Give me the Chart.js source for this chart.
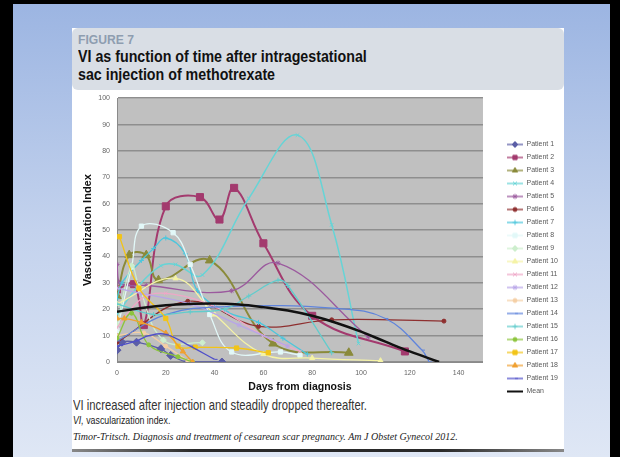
<!DOCTYPE html>
<html><head><meta charset="utf-8">
<script src="https://cdn.jsdelivr.net/npm/chart.js@4.4.1/dist/chart.umd.min.js"></script>
<style>
html,body{margin:0;padding:0}
body{width:620px;height:457px;position:relative;overflow:hidden;background:#000;font-family:'Liberation Sans',Arial,sans-serif}
#slide{position:absolute;left:13px;top:4px;width:597px;height:453px;background:linear-gradient(180deg,#9cb5e2 0%,#c3d2ed 50%,#dfe7f5 100%)}
#panel{position:absolute;left:72px;top:28px;width:492px;height:422px;background:#fff}
#head{position:absolute;left:72px;top:28px;width:492px;height:62px;background:#d9dee5;border-radius:6px}
.t{position:absolute;white-space:nowrap;transform-origin:0 0}
#fig{left:78px;top:32px;font:bold 13.5px 'Liberation Sans',sans-serif;color:#8e9db0;transform:scaleX(0.9)}
#t1{left:78px;top:48px;font:bold 16px 'Liberation Sans',sans-serif;color:#111;transform:scaleX(0.89)}
#t2{left:78px;top:66px;font:bold 16px 'Liberation Sans',sans-serif;color:#111;transform:scaleX(0.89)}
#c1{left:73px;top:396px;font:15px 'Liberation Sans',sans-serif;color:#333;transform:scaleX(0.75)}
#c2{left:73px;top:415px;font:10px 'Liberation Sans',sans-serif;color:#222;transform:scaleX(0.88)}
#c3{left:73px;top:431px;font:italic 10px 'Liberation Serif',serif;color:#222}
#shadow{position:absolute;left:72px;top:449px;width:492px;height:3px;background:linear-gradient(90deg,#888,#2a2a2a 25%,#2a2a2a 75%,#888)}
#cv{position:absolute;left:72px;top:87px}
</style></head>
<body>
<div id="slide"></div>
<div id="panel"></div>
<div id="head"></div>
<div class="t" id="fig">FIGURE 7</div>
<div class="t" id="t1">VI as function of time after intragestational</div>
<div class="t" id="t2">sac injection of methotrexate</div>
<div class="t" id="c1">VI increased after injection and steadily dropped thereafter.</div>
<div class="t" id="c2"><i>VI,</i> vascularization index.</div>
<div class="t" id="c3">Timor-Tritsch. Diagnosis and treatment of cesarean scar pregnancy. Am J Obstet Gynecol 2012.</div>
<div id="shadow"></div>
<canvas id="cv" width="496" height="362" style="width:496px;height:362px"></canvas>
<script>
// [day, VI] readings
const patient1  = [[0,4.5],[2,7.5],[8,7.5],[18,5],[22,2.5],[29,0],[43,0]];
const patient2  = [[0,27.5],[7,29.5],[11,14],[20,59],[34,62.5],[42,54],[48,66],[60,45],[80,17.5],[118,4]];
const patient3  = [[0,25],[5,40.5],[12,40.5],[17,31],[38,38.5],[64,7],[95,3.5]];
const patient4  = [[0,18],[8,28],[18,36.5],[24,37],[35,33],[54,62],[74,86],[88,52],[99,7]];
const patient5  = [[0,37],[1,30],[12,29],[47,27],[66,37.5],[103,9.5]];
const patient6  = [[0,7.5],[29,23],[58,13.5],[88,16],[134,15.5]];
const patient7  = [[0,24],[2,30],[10,38.5],[15,43],[20,47],[28,41],[33,27],[45,19],[58,15],[68,9],[78,3]];
const patient8  = [[0,12],[6,36],[10,51.5],[23,49],[30,37],[38,18],[47,3.8],[67,3.8],[75,2.6]];
const patient9  = [[0,14],[6,36.5],[9,28.5],[19,8.3],[35,7.3]];
const patient10 = [[0,22],[24,31.7],[40,18],[60,3],[80,1.5],[108,0.5]];
const patient11 = [[0,13],[10,24],[20,26],[40,21],[60,10],[75,4]];
const patient12 = [[0,28],[10,26],[30,22],[50,14],[70,6]];
const patient13 = [[0,10],[11,11],[20,6],[29,0.5]];
const patient14 = [[0,8],[20,18],[45,21],[90,20.3],[110,16.5],[125,4.5],[128,0]];
const patient15 = [[0,22],[15,18],[30,19],[44,20],[54,25],[66,31],[70,29],[88,3.5]];
const patient16 = [[0,9],[6,18.5],[13,6.5],[25,2],[31,0]];
const patient17 = [[1,47.5],[9,28],[20,16.5],[25,6],[32,5.6],[49,5.3],[62,3.5]];
const patient18 = [[0,16.5],[3,16.5],[10,15],[20,11],[27,4],[31,0]];
const patient19 = [[0,6],[8,8],[13,10],[20,10.5],[30,6],[40,1]];
const meanVI    = [[0,19],[10,20.5],[20,21.5],[30,22],[40,22.2],[50,21.8],[60,20.8],[70,19.5],[80,17.5],[90,14.8],[100,11.5],[110,7.7],[120,4],[132,0]];

const seriesNames = ['Patient 1','Patient 2','Patient 3','Patient 4','Patient 5','Patient 6','Patient 7','Patient 8','Patient 9','Patient 10','Patient 11','Patient 12','Patient 13','Patient 14','Patient 15','Patient 16','Patient 17','Patient 18','Patient 19','Mean'];
const seriesData = [patient1,patient2,patient3,patient4,patient5,patient6,patient7,patient8,patient9,patient10,patient11,patient12,patient13,patient14,patient15,patient16,patient17,patient18,patient19,meanVI];
const yTicks = [0,10,20,30,40,50,60,70,80,90,100];
const xTicks = [0,20,40,60,80,100,120,140];

const styles = [
 {c:'#5b5ea6',p:'rectRot',r:4,w:1.3},
 {c:'#a33a6e',p:'rect',r:5,w:2},
 {c:'#8a8a3a',p:'triangle',r:5,w:2},
 {c:'#66d4d6',p:'crossRot',r:2.5,w:1.5},
 {c:'#9b5a9e',p:'star',r:2.5,w:1.3},
 {c:'#8e2f2f',p:'circle',r:2,w:1.3},
 {c:'#4cc6dc',p:'cross',r:2.5,w:1.3},
 {c:'#e2f8f8',p:'rect',r:3,w:1.3},
 {c:'#cdeecd',p:'rectRot',r:3,w:1.3},
 {c:'#f5f3a6',p:'triangle',r:3,w:1.3},
 {c:'#efa7c7',p:'crossRot',r:2.5,w:1.3},
 {c:'#b8a5e8',p:'star',r:2.5,w:1.3},
 {c:'#f5cfa5',p:'circle',r:2,w:1.3},
 {c:'#5f84dc',p:'dash',r:3,w:1.3},
 {c:'#62cccc',p:'cross',r:2.5,w:1.3},
 {c:'#8cc43c',p:'circle',r:2,w:1.3},
 {c:'#f2c418',p:'rect',r:3,w:1.3},
 {c:'#f0a030',p:'triangle',r:3,w:1.3},
 {c:'#4f4fc9',p:'dash',r:3,w:1.3},
 {c:'#111111',p:false,r:0,w:2.5}
];

const datasets = seriesData.map((arr,i)=>({
  label: seriesNames[i],
  data: arr.map(d=>({x:d[0],y:d[1]})),
  borderColor: styles[i].c,
  backgroundColor: styles[i].c,
  borderWidth: styles[i].w,
  pointStyle: styles[i].p || 'circle',
  pointRadius: styles[i].r,
  pointBorderWidth: 1,
  pointBorderColor: styles[i].c,
  pointBackgroundColor: styles[i].c,
  tension: 0.4,
  fill: false,
  order: i===19 ? 0 : 20-i
}));

function legendIcon(st){
  const cv = document.createElement('canvas');
  cv.width = 16; cv.height = 8;
  const ctx = cv.getContext('2d');
  ctx.strokeStyle = st.c; ctx.lineWidth = st.p ? 1.3 : 2;
  ctx.beginPath(); ctx.moveTo(0,4); ctx.lineTo(16,4); ctx.stroke();
  if (st.p) {
    ctx.fillStyle = st.c; ctx.strokeStyle = st.c; ctx.lineWidth = 1;
    Chart.helpers.drawPoint(ctx,{pointStyle:st.p,radius:Math.min(st.r,3),rotation:0,borderWidth:1},8,4);
  }
  return cv;
}
const icons = styles.map(legendIcon);

const plotBg = {
  id:'plotBg',
  beforeDraw(chart){
    const {ctx,chartArea:a} = chart;
    ctx.save(); ctx.fillStyle='#c0c0c0';
    ctx.fillRect(a.left,a.top,a.right-a.left,a.bottom-a.top);
    ctx.restore();
  }
};

new Chart(document.getElementById('cv'),{
  type:'line',
  data:{datasets},
  plugins:[plotBg],
  options:{
    responsive:false, animation:false, devicePixelRatio:1,
    layout:{padding:0},
    plugins:{
      tooltip:{enabled:false},
      legend:{
        position:'right',
        labels:{
          usePointStyle:true, pointStyleWidth:16, boxHeight:7, padding:6,
          color:'#5a5a5a', font:{family:'Liberation Sans', size:7},
          generateLabels(chart){
            return chart.data.datasets.map((ds,i)=>({text:ds.label, pointStyle:icons[i], datasetIndex:i, hidden:false, fontColor:'#5a5a5a', lineWidth:0, strokeStyle:'rgba(0,0,0,0)', fillStyle:'rgba(0,0,0,0)'}));
          }
        }
      }
    },
    scales:{
      x:{
        type:'linear', min:0, max:150,
        afterBuildTicks(s){ s.ticks = xTicks.map(v=>({value:v})); },
        afterFit(s){ s.height = 87; },
        grid:{display:false, drawTicks:false},
        border:{display:true, color:'#8a8a8a', width:1},
        ticks:{padding:7, color:'#666', font:{family:'Liberation Sans', size:7}},
        title:{display:true, text:'Days from diagnosis', color:'#111', font:{family:'Liberation Sans', size:10.5, weight:'bold'}, padding:{top:0,bottom:56}}
      },
      y:{
        type:'linear', min:0, max:100,
        afterBuildTicks(s){ s.ticks = yTicks.map(v=>({value:v})); },
        afterFit(s){ s.width = 45; },
        grid:{color:'#8e8e8e', lineWidth:1.5, drawTicks:false},
        border:{display:true, color:'#8a8a8a', width:1},
        ticks:{padding:7, color:'#666', font:{family:'Liberation Sans', size:7}},
        title:{display:true, text:'Vascularization Index', color:'#111', font:{family:'Liberation Sans', size:11, weight:'bold'}, padding:{top:9,bottom:0}}
      },
      y2:{
        type:'linear', position:'right', min:0, max:100,
        afterFit(s){ s.width = 18; },
        grid:{display:false, drawTicks:false}, border:{display:false},
        ticks:{display:false}
      }
    }
  }
});
</script>
</body></html>
